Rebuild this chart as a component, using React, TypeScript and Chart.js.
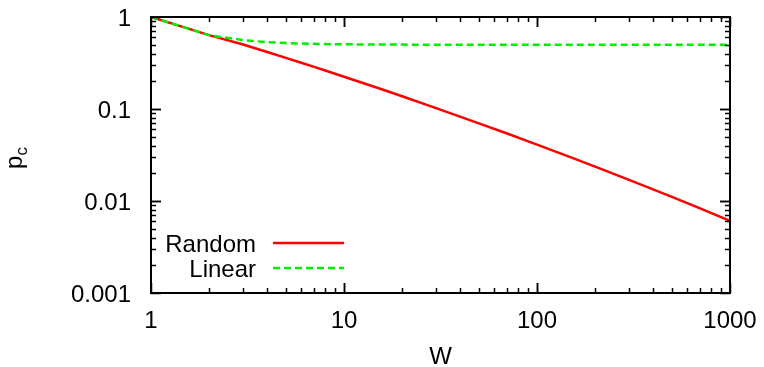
import { useEffect, useRef } from 'react';
import { Chart, registerables } from 'chart.js';

Chart.register(...registerables);

// Window size W and the critical probability p_c for each placement strategy
const W = [1, 2, 3, 4, 5, 6, 7, 8, 10, 15, 20, 30, 50, 70, 100, 150, 200, 300, 500, 700, 1000];
const randomPc = [1, 0.635, 0.503, 0.417, 0.359, 0.318, 0.287, 0.262, 0.2244, 0.169, 0.1375, 0.1023, 0.0699, 0.0541, 0.041, 0.0298, 0.0236, 0.017, 0.0111, 0.0083, 0.0061];
const linearPc = [1, 0.635, 0.56, 0.533, 0.521, 0.515, 0.511, 0.508, 0.505, 0.502, 0.501, 0.5, 0.5, 0.5, 0.5, 0.5, 0.5, 0.5, 0.5, 0.5, 0.5];

const seriesLabels = ['Random', 'Linear'];
const xTickValues = [1, 10, 100, 1000];
const xTickLabels = ['1', '10', '100', '1000'];
const yTickValues = [0.001, 0.01, 0.1, 1];
const yTickLabels = ['0.001', '0.01', '0.1', '1'];

const FONT = '"Liberation Sans", Arial, Helvetica, sans-serif';
const FONT_SIZE = 24;

// Gnuplot-style frame: border with inward major/minor ticks on all four sides,
// tick labels, rotated p_c axis title, W axis title and a key in the lower-left corner.
const framePlugin = {
  id: 'frame',
  afterDraw(chart: any) {
    const { ctx, chartArea } = chart;
    const { left, right, top, bottom } = chartArea;
    const xs = chart.scales.x;
    const ys = chart.scales.y;
    ctx.save();
    ctx.strokeStyle = '#000';
    ctx.lineWidth = 1.5;

    // x ticks (bottom and top)
    for (let d = 0; d < 3; d++) {
      for (let m = 1; m <= 10; m++) {
        const v = m * Math.pow(10, d);
        if (v > 1000) continue;
        const px = Math.round(xs.getPixelForValue(v)) + 0.5;
        const len = m === 1 || m === 10 ? 10 : 5;
        ctx.beginPath();
        ctx.moveTo(px, bottom);
        ctx.lineTo(px, bottom - len);
        ctx.moveTo(px, top);
        ctx.lineTo(px, top + len);
        ctx.stroke();
      }
    }
    // y ticks (left and right)
    for (let d = -3; d < 0; d++) {
      for (let m = 1; m <= 10; m++) {
        const v = m * Math.pow(10, d);
        const py = Math.round(ys.getPixelForValue(v)) + 0.5;
        const len = m === 1 || m === 10 ? 10 : 5;
        ctx.beginPath();
        ctx.moveTo(left, py);
        ctx.lineTo(left + len, py);
        ctx.moveTo(right, py);
        ctx.lineTo(right - len, py);
        ctx.stroke();
      }
    }

    // border
    ctx.lineWidth = 2;
    ctx.strokeRect(left, top, right - left, bottom - top);

    // tick labels
    ctx.fillStyle = '#000';
    ctx.font = `${FONT_SIZE}px ${FONT}`;
    ctx.textBaseline = 'alphabetic';
    ctx.textAlign = 'center';
    xTickValues.forEach((v, i) => {
      ctx.fillText(xTickLabels[i], xs.getPixelForValue(v), bottom + 34.5);
    });
    ctx.textAlign = 'right';
    yTickValues.forEach((v, i) => {
      ctx.fillText(yTickLabels[i], left - 20, ys.getPixelForValue(v) + 8.5);
    });

    // axis titles
    ctx.textAlign = 'center';
    ctx.fillText('W', (left + right) / 2, 364);

    ctx.save();
    ctx.translate(22, (top + bottom) / 2 + 3);
    ctx.rotate(-Math.PI / 2);
    ctx.textAlign = 'left';
    ctx.textBaseline = 'alphabetic';
    ctx.font = `${FONT_SIZE}px ${FONT}`;
    const pw = ctx.measureText('p').width;
    const subFont = `${Math.round(FONT_SIZE * 0.72)}px ${FONT}`;
    ctx.font = subFont;
    const cw = ctx.measureText('c').width;
    const start = -(pw + cw) / 2;
    ctx.font = `${FONT_SIZE}px ${FONT}`;
    ctx.fillText('p', start, 0);
    ctx.font = subFont;
    ctx.fillText('c', start + pw, 5);
    ctx.restore();

    // key
    const rows = [243, 268];
    chart.data.datasets.forEach((ds: any, i: number) => {
      const y = rows[i];
      ctx.font = `${FONT_SIZE}px ${FONT}`;
      ctx.textAlign = 'right';
      ctx.textBaseline = 'alphabetic';
      ctx.fillStyle = '#000';
      ctx.fillText(ds.label, 256, y + 8.5);
      ctx.beginPath();
      ctx.strokeStyle = ds.borderColor;
      ctx.lineWidth = ds.borderWidth;
      ctx.setLineDash(ds.borderDash || []);
      ctx.moveTo(273, y);
      ctx.lineTo(344, y);
      ctx.stroke();
      ctx.setLineDash([]);
    });

    ctx.restore();
  },
};

export default function App() {
  const canvasRef = useRef<HTMLCanvasElement | null>(null);

  useEffect(() => {
    document.body.style.margin = '0';
    const canvas = canvasRef.current;
    if (!canvas) return;

    const chart = new Chart(canvas, {
      type: 'line',
      data: {
        datasets: [
          {
            label: seriesLabels[0],
            data: W.map((w, i) => ({ x: w, y: randomPc[i] })),
            borderColor: '#ff0000',
            borderWidth: 2.5,
            pointRadius: 0,
            tension: 0,
            fill: false,
            order: 1,
          },
          {
            label: seriesLabels[1],
            data: W.map((w, i) => ({ x: w, y: linearPc[i] })),
            borderColor: '#00f000',
            borderWidth: 2.5,
            borderDash: [7, 4],
            pointRadius: 0,
            tension: 0,
            fill: false,
            order: 0,
          },
        ],
      },
      options: {
        responsive: false,
        animation: false,
        devicePixelRatio: 1,
        layout: { padding: { top: 17, right: 34, left: 0, bottom: 0 } },
        plugins: {
          legend: { display: false },
          tooltip: { enabled: false },
        },
        scales: {
          x: {
            type: 'logarithmic',
            min: 1,
            max: 1000,
            grid: { display: false },
            border: { display: false },
            afterBuildTicks: (s: any) => {
              s.ticks = xTickValues.map((v) => ({ value: v }));
            },
            afterFit: (s: any) => {
              s.height = 74;
            },
            ticks: { display: false },
          },
          y: {
            type: 'logarithmic',
            min: 0.001,
            max: 1,
            grid: { display: false },
            border: { display: false },
            afterBuildTicks: (s: any) => {
              s.ticks = yTickValues.map((v) => ({ value: v }));
            },
            afterFit: (s: any) => {
              s.width = 151;
            },
            ticks: { display: false },
          },
        },
      },
      plugins: [framePlugin],
    });

    return () => chart.destroy();
  }, []);

  return (
    <div style={{ width: 764, height: 367 }}>
      <canvas ref={canvasRef} width={764} height={367} style={{ width: 764, height: 367, display: 'block' }} />
    </div>
  );
}
